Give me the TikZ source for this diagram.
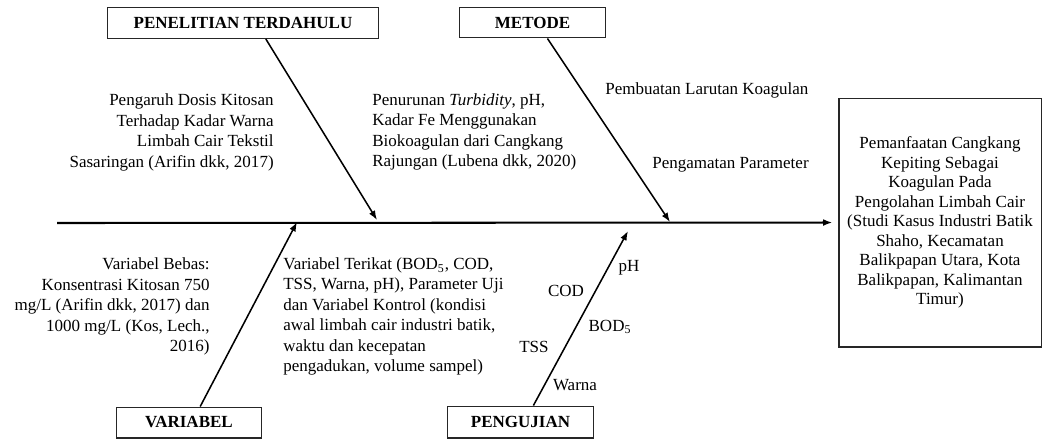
\documentclass[tikz,border=0pt]{standalone}
\usepackage{fontspec}
\setmainfont{Liberation Serif}
\usetikzlibrary{arrows.meta}

\begin{document}
\begin{tikzpicture}[x=0.588pt,y=-0.588pt,
    kotak/.style={draw=black!85, line width=0.6pt, font=\bfseries, inner sep=0pt},
    tulang/.style={line width=0.9pt, -{Latex[length=5.5pt,width=4pt]}},
    teks/.style={inner sep=0pt, font=\fontsize{10}{12}\selectfont}]
    \useasboundingbox (0,0) rectangle (1045,439);
    % kotak kategori
    \node[kotak, minimum width=158.8pt, minimum height=18.2pt] (penelitian) at (243,23) {PENELITIAN TERDAHULU};
    \node[kotak, minimum width=85.3pt, minimum height=18.2pt] (metode) at (532.5,22.5) {METODE};
    \node[kotak, minimum width=85.8pt, minimum height=18.2pt] (variabel) at (189,422.5) {VARIABEL};
    \node[kotak, minimum width=85.3pt, minimum height=18.8pt] (pengujian) at (520.5,422) {PENGUJIAN};
    \node[kotak, font=\fontsize{10}{11.5}\selectfont, align=center, minimum width=118.8pt, minimum height=146.4pt] (hasil) at (940,222.5)
        {Pemanfaatan Cangkang\\Kepiting Sebagai\\Koagulan Pada\\Pengolahan Limbah Cair\\(Studi Kasus Industri Batik\\Shaho, Kecamatan\\Balikpapan Utara, Kota\\Balikpapan, Kalimantan\\Timur)};

    % tulang utama
    \coordinate (ekor) at (57,223);
    \draw[tulang, line width=1.2pt, shorten >=3.5pt] (ekor) -- (hasil.west);

    % tulang cabang
    \coordinate (ujungA) at (377,220);
    \coordinate (ujungB) at (670,222);
    \coordinate (ujungC) at (297,222);
    \coordinate (ujungD) at (628,231);
    \draw[tulang] (penelitian.-35) -- (ujungA);
    \draw[tulang] (metode.-47) -- (ujungB);
    \draw[tulang] (variabel.55) -- (ujungC);
    \draw[tulang] (pengujian.52) -- (ujungD);

    % keterangan
    \node[teks, anchor=east, align=right] (arifin) at (274,132.5)
        {Pengaruh Dosis Kitosan\\Terhadap Kadar Warna\\Limbah Cair Tekstil\\Sasaringan (Arifin dkk, 2017)};
    \node[teks, anchor=west, align=left] (lubena) at (372,132)
        {Penurunan \textit{Turbidity}, pH,\\Kadar Fe Menggunakan\\Biokoagulan dari Cangkang\\Rajungan (Lubena dkk, 2020)};
    \node[teks, anchor=west] (larutan) at (605,90) {Pembuatan Larutan Koagulan};
    \node[teks, anchor=west] (parameter) at (652,165) {Pengamatan Parameter};
    \node[teks, anchor=east, align=right] (bebas) at (210,306.5)
        {Variabel Bebas:\\Konsentrasi Kitosan 750\\mg/L (Arifin dkk, 2017) dan\\1000 mg/L (Kos, Lech.,\\2016)};
    \node[teks, anchor=west, align=left] (terikat) at (283,316.5)
        {Variabel Terikat (BOD\textsubscript{5}, COD,\\TSS, Warna, pH), Parameter Uji\\dan Variabel Kontrol (kondisi\\awal limbah cair industri batik,\\waktu dan kecepatan\\pengadukan, volume sampel)};
    \node[teks] (ph) at (629,268) {pH};
    \node[teks] (cod) at (566,291) {COD};
    \node[teks] (bod) at (610,327) {BOD\textsubscript{5}};
    \node[teks] (tss) at (534,347) {TSS};
    \node[teks] (warna) at (575,385) {Warna};
\end{tikzpicture}
\end{document}
